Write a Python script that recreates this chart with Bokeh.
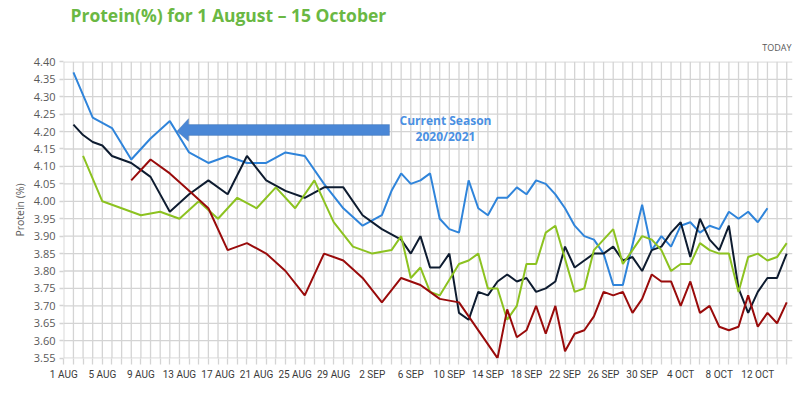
from bokeh.plotting import figure
from bokeh.models import (FixedTicker, Label, Legend, LegendItem, PolyAnnotation, Range1d,
                          NumeralTickFormatter, Title)
from bokeh.embed import file_html
from bokeh.resources import INLINE

# x values are days since 1 August
tick_days = list(range(0, 76, 4))
tick_labels = ["1 AUG", "5 AUG", "9 AUG", "13 AUG", "17 AUG", "21 AUG", "25 AUG",
               "29 AUG", "2 SEP", "6 SEP", "10 SEP", "14 SEP", "18 SEP", "22 SEP",
               "26 SEP", "30 SEP", "4 OCT", "8 OCT", "12 OCT"]
all_days = list(range(0, 76))

names = ["78390 Stuart 2020/21", "78390 Stuart 2019/20",
         "78390 Stuart 2018/19", "78390 Stuart 2017/18"]

days_2021 = [1, 3, 5, 7, 9, 11, 13, 15, 17, 19, 21, 23, 25, 27, 29, 31, 33,
             34, 35, 36, 37, 38, 39, 40, 41, 42, 43, 44, 45, 46, 47, 48, 49, 50,
             51, 52, 53, 54, 55, 56, 57, 58,
             60, 61, 62, 63, 64, 65, 66, 67, 68, 69, 70, 71, 72, 73]
vals_2021 = [4.37, 4.24, 4.21, 4.12, 4.18, 4.23, 4.14, 4.11, 4.13, 4.11, 4.11, 4.14,
             4.13, 4.05, 3.98, 3.93, 3.96,
             4.03, 4.08, 4.05, 4.06, 4.08, 3.95, 3.92, 3.91, 4.06, 3.98, 3.96, 4.01,
             4.01, 4.04, 4.02, 4.06, 4.05, 4.02, 3.98, 3.93, 3.90, 3.89, 3.85, 3.76, 3.76,
             3.99, 3.86, 3.90, 3.87, 3.93, 3.94, 3.91, 3.93, 3.92, 3.97, 3.95, 3.97, 3.94, 3.98]

days_1920 = [1, 2, 3, 4, 5, 6, 7, 8, 9, 11, 13, 15, 17, 19, 21, 23, 25, 27, 29, 31,
             33, 35, 36, 37, 38, 39] + list(range(40, 76))
vals_1920 = [4.22, 4.19, 4.17, 4.16, 4.13, 4.12, 4.11, 4.09, 4.07, 3.97, 4.02, 4.06,
             4.02, 4.13, 4.06, 4.03, 4.01, 4.04, 4.04, 3.96, 3.92, 3.89, 3.85, 3.90,
             3.81, 3.81,
             3.85, 3.68, 3.66, 3.74, 3.73, 3.77, 3.79, 3.77, 3.78, 3.74,
             3.75, 3.77, 3.87, 3.81, 3.83, 3.85, 3.85, 3.87, 3.83, 3.84,
             3.80, 3.86, 3.87, 3.91, 3.94, 3.84, 3.95, 3.89, 3.86, 3.93,
             3.75, 3.68, 3.74, 3.78, 3.78, 3.85]

days_1819 = [2, 4, 6, 8, 10, 12, 14, 16, 18, 20, 22, 24, 26, 28, 30, 32, 34,
             35, 36, 37, 38, 39, 41, 42, 43, 44, 45, 46, 47, 48, 49, 50, 51,
             53, 54, 55, 57, 58, 59] + list(range(60, 76))
vals_1819 = [4.13, 4.00, 3.98, 3.96, 3.97, 3.95, 4.00, 3.95, 4.01, 3.98, 4.04, 3.98,
             4.06, 3.94, 3.87, 3.85, 3.86,
             3.90, 3.78, 3.81, 3.74, 3.73, 3.82, 3.83, 3.85, 3.75, 3.75, 3.66, 3.70,
             3.82, 3.82, 3.91, 3.93,
             3.74, 3.75, 3.86, 3.92, 3.82, 3.86,
             3.90, 3.89, 3.86, 3.80, 3.82, 3.82, 3.88, 3.86, 3.85, 3.85,
             3.74, 3.84, 3.85, 3.83, 3.84, 3.88]

days_1718 = [7, 9, 11, 13, 15, 17, 19, 21, 23, 25, 27, 29, 31, 33, 35,
             37, 38, 39, 40, 41] + list(range(45, 76))
vals_1718 = [4.06, 4.12, 4.08, 4.03, 3.98, 3.86, 3.88, 3.85, 3.80, 3.73, 3.85, 3.83,
             3.78, 3.71, 3.78,
             3.76, 3.74, 3.72, 3.715, 3.71,
             3.55, 3.69, 3.61, 3.63, 3.70, 3.62, 3.70, 3.57, 3.62, 3.63,
             3.67, 3.74, 3.73, 3.74, 3.68, 3.72, 3.79, 3.77, 3.77, 3.70,
             3.77, 3.68, 3.70, 3.64, 3.63, 3.64, 3.73, 3.64, 3.68, 3.65,
             3.71]

y_ticks = [3.55, 3.60, 3.65, 3.70, 3.75, 3.80, 3.85, 3.90, 3.95, 4.00, 4.05, 4.10,
           4.15, 4.20, 4.25, 4.30, 4.35, 4.40]

title_text = "Protein(%) for 1 August \u2013 15 October"
today_text = "TODAY"

colors = ["#2f84da", "#0e1c30", "#8cc220", "#990b0b"]
GRID = "#d4d4d4"

x_lo, x_hi = -0.03, 75.6
y_lo, y_hi = 3.549, 4.401

# fixed plot frame: 63 + 729 + 8 = 800 wide, 60 + 297 + 53 = 410 high
p = figure(frame_width=729, frame_height=297, output_backend="svg",
           toolbar_location=None, title=None,
           x_range=Range1d(x_lo, x_hi), y_range=Range1d(y_lo, y_hi),
           min_border_left=63, min_border_right=8, min_border_top=60,
           min_border_bottom=53)
p.outline_line_color = None
p.background_fill_color = None
p.border_fill_color = None
p.grid.visible = False

# grid lines drawn from the tick positions
p.segment(x0=all_days, y0=[y_ticks[0]] * len(all_days), x1=all_days,
          y1=[y_ticks[-1]] * len(all_days), line_color=GRID, line_width=1.3)
p.segment(x0=[x_lo] * len(y_ticks), y0=y_ticks, x1=[x_hi] * len(y_ticks), y1=y_ticks,
          line_color=GRID, line_width=1.3)

# x axis: a tick on every day, a label on every 4th day
p.xaxis.ticker = FixedTicker(ticks=all_days)
overrides = {d: "" for d in all_days}
for d, lab in zip(tick_days, tick_labels):
    overrides[d] = lab
p.xaxis.major_label_overrides = overrides
p.xaxis.axis_line_color = None
p.xaxis.major_tick_line_color = GRID
p.xaxis.major_tick_line_width = 1.3
p.xaxis.major_tick_out = 6
p.xaxis.major_tick_in = 0
p.xaxis.minor_tick_line_color = None
p.xaxis.major_label_standoff = 4
p.xaxis.major_label_text_font = "Roboto"
p.xaxis.major_label_text_font_size = "10px"
p.xaxis.major_label_text_color = "#3a3a3a"

# y axis
p.yaxis.ticker = FixedTicker(ticks=y_ticks)
p.yaxis.formatter = NumeralTickFormatter(format="0.00")
p.yaxis.axis_line_color = None
p.yaxis.major_tick_line_color = GRID
p.yaxis.major_tick_line_width = 1.3
p.yaxis.major_tick_out = 4
p.yaxis.major_tick_in = 0
p.yaxis.minor_tick_line_color = None
p.yaxis.major_label_standoff = 4
p.yaxis.major_label_text_font = "Open Sans"
p.yaxis.major_label_text_font_size = "11px"
p.yaxis.major_label_text_color = "#595959"
p.yaxis.axis_label = "Protein (%)"
p.yaxis.axis_label_text_font = "Open Sans"
p.yaxis.axis_label_text_font_size = "10.5px"
p.yaxis.axis_label_text_font_style = "normal"
p.yaxis.axis_label_text_color = "#595959"
p.yaxis.axis_label_standoff = 4

series = [(days_2021, vals_2021), (days_1920, vals_1920),
          (days_1819, vals_1819), (days_1718, vals_1718)]
renderers = []
for (dx, vy), c in zip(series, colors):
    renderers.append(p.line(dx, vy, line_color=c, line_width=2))

# legend in the panel below the x axis, anchored to the top of that panel
legend = Legend(items=[LegendItem(label=n, renderers=[r]) for n, r in zip(names, renderers)],
                orientation="horizontal", location="top_center",
                padding=0, margin=11, spacing=9, label_standoff=4,
                glyph_width=13, glyph_height=14, label_height=14,
                label_text_font="Roboto", label_text_font_size="12px",
                label_text_color="#44546a", background_fill_alpha=0,
                border_line_color=None)
p.add_layout(legend, "below")

# titles in the panel above the plot
p.add_layout(Title(text=today_text, align="right", offset=1, standoff=16,
                   vertical_align="bottom", text_font="Open Sans",
                   text_font_size="9px", text_font_style="normal",
                   text_color="#595959"), "above")
p.add_layout(Title(text=title_text, align="left", offset=7, standoff=4,
                   vertical_align="top", text_font="Open Sans",
                   text_font_size="17.5px", text_font_style="bold",
                   text_color="#6ab843"), "above")

# block arrow pointing at the current season line
arrow_x = [11.74, 12.94, 12.94, 33.79, 33.79, 12.94, 12.94]
arrow_y = [4.201, 4.237, 4.220, 4.220, 4.189, 4.189, 4.172]
p.add_layout(PolyAnnotation(xs=arrow_x, ys=arrow_y, fill_color="#4a87d6",
                            fill_alpha=1, line_color="#2f5f9f", line_width=1))

p.add_layout(Label(x=39.6, y=4.232, text="Current Season", text_align="center",
                   text_baseline="middle", text_font="Open Sans",
                   text_font_style="bold", text_font_size="12px",
                   text_color="#4a90e2"))
p.add_layout(Label(x=39.6, y=4.186, text="2020/2021", text_align="center",
                   text_baseline="middle", text_font="Open Sans",
                   text_font_style="bold", text_font_size="12px",
                   text_color="#4a90e2"))

open("out.html", "w").write(file_html(p, INLINE))
